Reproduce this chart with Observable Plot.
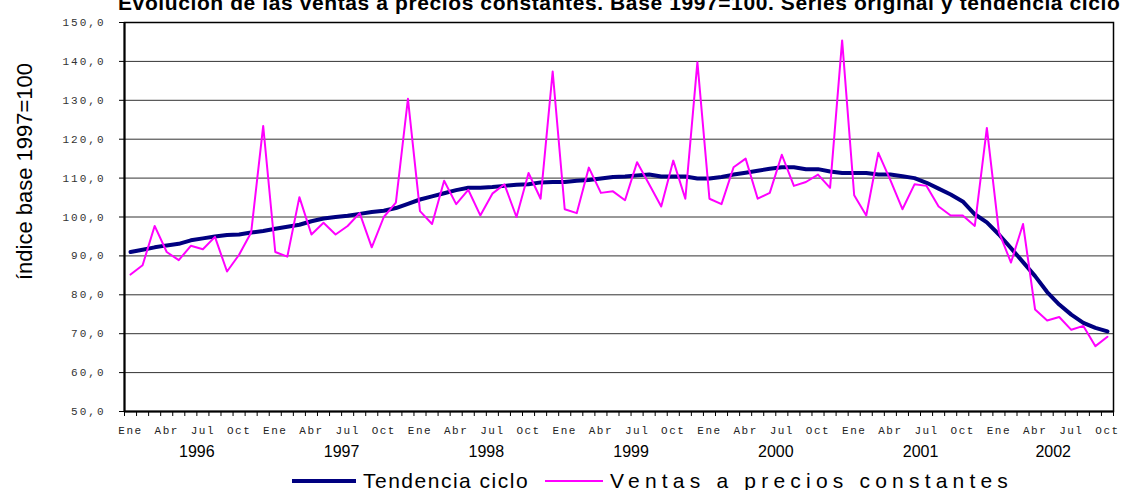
<!DOCTYPE html>
<html>
<head>
<meta charset="utf-8">
<script src="https://cdn.jsdelivr.net/npm/d3@7"></script>
<script src="https://cdn.jsdelivr.net/npm/@observablehq/plot@0.6"></script>
<style>
  body { margin: 0; background: #fff; }
  #wrap { position: relative; width: 1121px; height: 490px; overflow: hidden; font-family: "Liberation Sans", Arial, sans-serif; }
  #title { position: absolute; left: 118px; top: -8px; font-weight: bold; font-size: 21px; line-height: 21px; letter-spacing: 0.6px; white-space: nowrap; color: #000; }
  .leg { position: absolute; top: 470px; display: flex; align-items: center; font-size: 21px; line-height: 21px; white-space: nowrap; color: #000; }
  .leg svg { margin-right: 7px; }
  svg g[aria-label="y-axis tick label"] { letter-spacing: 2px; }
  svg g[aria-label="x-axis tick label"] { letter-spacing: 1.5px; }
</style>
</head>
<body>
<div id="wrap">
  <div id="title"></div>
  <div id="chart"></div>
</div>
<script>
// ---- data ----
const monthNames = ["Ene","Feb","Mar","Abr","May","Jun","Jul","Ago","Sep","Oct","Nov","Dic"];
const years = [1996, 1997, 1998, 1999, 2000, 2001, 2002];
const startYear = 1996;
const yTicks = [50, 60, 70, 80, 90, 100, 110, 120, 130, 140, 150];
const seriesNames = ["Tendencia ciclo", "Ventas a precios constantes"];
const seriesColors = ["#000080", "#ff00ff"];
const titleText = "Evolución de las ventas a precios constantes. Base 1997=100. Series original y tendencia ciclo";
const yLabel = "índice base 1997=100";

const tendencia = [
  91.0, 91.6, 92.2, 92.7, 93.1, 94.0, 94.5, 95.0, 95.4, 95.5, 96.0, 96.4,
  97.0, 97.5, 98.0, 98.9, 99.6, 100.0, 100.3, 100.8, 101.3, 101.6, 102.3, 103.4,
  104.5, 105.3, 106.1, 106.9, 107.5, 107.5, 107.7, 108.0, 108.3, 108.4, 108.9, 109.0,
  109.0, 109.3, 109.5, 109.9, 110.3, 110.4, 110.7, 110.9, 110.4, 110.4, 110.4, 109.9,
  109.9, 110.3, 110.9, 111.4, 111.9, 112.4, 112.8, 112.8, 112.3, 112.3, 111.7, 111.3,
  111.3, 111.3, 110.9, 110.9, 110.5, 110.0, 108.8, 107.3, 105.8, 104.0, 100.7, 98.6,
  95.5, 92.0, 88.4, 84.8, 80.7, 77.5, 74.9, 72.8, 71.5, 70.6
];
const ventas = [
  85.2, 87.6, 97.7, 91.0, 88.9, 92.6, 91.7, 94.9, 86.0, 90.3, 96.0, 123.4,
  91.0, 89.8, 105.1, 95.5, 98.5, 95.5, 97.7, 101.0, 92.2, 100.0, 103.7, 130.4,
  101.5, 98.2, 109.3, 103.3, 107.0, 100.4, 106.0, 108.4, 100.0, 111.3, 104.7, 137.4,
  102.0, 101.0, 112.7, 106.2, 106.6, 104.3, 114.1, 108.4, 102.7, 114.5, 104.7, 139.8,
  104.7, 103.3, 112.8, 115.0, 104.7, 106.2, 116.0, 108.0, 109.0, 110.9, 107.5, 145.4,
  105.6, 100.4, 116.5, 109.5, 102.0, 108.4, 108.0, 102.7, 100.4, 100.4, 97.7, 122.9,
  96.1, 88.3, 98.2, 76.2, 73.4, 74.3, 71.0, 72.0, 66.8, 69.2
];

// ---- derived tables ----
const n = ventas.length;
const rows = d3.range(n).map(i => ({i, tendencia: tendencia[i], ventas: ventas[i]}));
const boundaries = d3.range(n + 1).map(i => i - 0.5);
const labeled = d3.range(0, n, 3);
const yearLabels = years.map(y => {
  const idx = d3.range(n).filter(i => startYear + Math.floor(i / 12) === y);
  return {year: String(y), center: d3.mean(idx)};
});

document.getElementById("title").textContent = titleText;

const chart = Plot.plot({
  width: 1121,
  height: 490,
  marginLeft: 124,
  marginRight: 8,
  marginTop: 22,
  marginBottom: 79,
  style: {background: "white", overflow: "visible", color: "#000"},
  x: {type: "linear", domain: [-0.5, n - 0.5]},
  y: {domain: [50, 150]},
  marks: [
    Plot.gridY(yTicks.filter(t => t > 50 && t < 150), {stroke: "#333", strokeOpacity: 1, strokeWidth: 1}),
    Plot.frame({stroke: "#000", strokeWidth: 1.5}),
    Plot.ruleX([-0.5], {stroke: "#000", strokeWidth: 2}),
    Plot.ruleY([50], {stroke: "#000", strokeWidth: 2}),
    Plot.axisY({ticks: yTicks, tickSize: 5, tickPadding: 14, tickFormat: d => `${d},0`,
      fontFamily: "Liberation Mono", fontSize: 11, fill: "#333", stroke: "#000", label: null}),
    Plot.axisX({ticks: boundaries, tickSize: 5, fill: "none", stroke: "#000", label: null}),
    Plot.axisX({ticks: labeled, tickSize: 0, tickPadding: 15, tickFormat: i => monthNames[i % 12],
      fontFamily: "Liberation Mono", fontSize: 11, fill: "#222", label: null}),
    Plot.text(yearLabels, {x: "center", text: "year", frameAnchor: "bottom", dy: 45,
      fontSize: 16, fontFamily: "Liberation Sans", fill: "#000"}),
    Plot.text([yLabel], {text: d => d, frameAnchor: "left", textAnchor: "middle", rotate: -90, dx: -100, dy: -45.5,
      fontSize: 22, fontFamily: "Liberation Sans", fill: "#000"}),
    Plot.line(rows, {x: "i", y: "tendencia", stroke: seriesColors[0], strokeWidth: 4}),
    Plot.line(rows, {x: "i", y: "ventas", stroke: seriesColors[1], strokeWidth: 2})
  ]
});
document.getElementById("chart").appendChild(chart);

// legend (below plot area)
const wrap = document.getElementById("wrap");
const legLefts = [292, 545];
const legWidths = [64, 58];
const legStroke = [4, 2];
const legSpacing = [1.5, 5.2];
seriesNames.forEach((name, k) => {
  const d = document.createElement("div");
  d.className = "leg";
  d.style.left = legLefts[k] + "px";
  d.style.letterSpacing = legSpacing[k] + "px";
  d.innerHTML = `<svg width="${legWidths[k]}" height="10"><line x1="0" x2="${legWidths[k]}" y1="5" y2="5" stroke="${seriesColors[k]}" stroke-width="${legStroke[k]}"/></svg><span>${name}</span>`;
  wrap.appendChild(d);
});
</script>
</body>
</html>
